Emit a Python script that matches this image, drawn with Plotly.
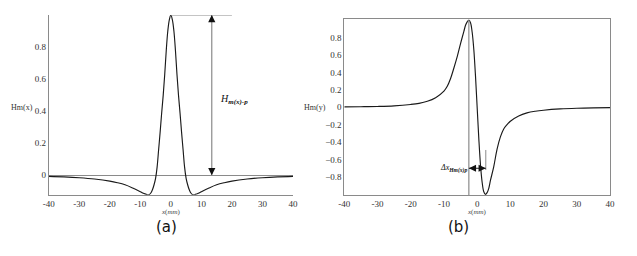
import plotly.graph_objects as go

# ---------------- data ----------------
xa = [-40, -35, -30, -25, -20, -17.5, -15, -12.5, -10, -9, -8, -7.5, -7, -6.5, -6, -5.5, -5, -4.5,
      -4, -3.5, -3, -2.5, -2, -1.5, -1, -0.5, 0,
      0.5, 1, 1.5, 2, 2.5, 3, 3.5, 4, 4.5, 5, 5.5, 6, 6.5, 7, 7.5, 8, 9, 10,
      12.5, 15, 17.5, 20, 25, 30, 35, 40]
ya = [-0.008, -0.011, -0.016, -0.024, -0.037, -0.047, -0.06, -0.08, -0.103, -0.113, -0.12, -0.122, -0.12,
      -0.11, -0.09, -0.06, -0.02, 0.05, 0.16, 0.27, 0.39, 0.5, 0.63, 0.78, 0.9, 0.97, 1.0,
      0.97, 0.9, 0.78, 0.63, 0.5, 0.39, 0.27, 0.16, 0.05, -0.02, -0.06, -0.09, -0.11, -0.12, -0.122,
      -0.12, -0.113, -0.103, -0.08, -0.06, -0.047, -0.037, -0.024, -0.016, -0.011, -0.008]

xb = [-40, -35, -30, -25, -20, -17.5, -15, -12.5, -10, -9, -8, -7, -6, -5, -4, -3.5, -3, -2.5,
      -2, -1.5, -1, -0.5, 0, 0.5, 1, 1.5, 2, 2.5, 3, 3.5, 4, 5, 6, 7, 8, 9, 10,
      12.5, 15, 17.5, 20, 25, 30, 35, 40]
yb = [0.004, 0.006, 0.009, 0.016, 0.032, 0.045, 0.068, 0.11, 0.185, 0.24, 0.33, 0.45, 0.58, 0.73,
      0.87, 0.94, 0.98, 1.0, 0.97, 0.86, 0.66, 0.36, 0.0, -0.36, -0.66, -0.86, -0.97, -1.0, -0.98,
      -0.93, -0.84, -0.68, -0.48, -0.34, -0.25, -0.2, -0.16, -0.1, -0.065, -0.046, -0.034, -0.019,
      -0.011, -0.007, -0.005]

x_ticks = [-40, -30, -20, -10, 0, 10, 20, 30, 40]
ya_ticks = [0, 0.2, 0.4, 0.6, 0.8]
yb_ticks = [-0.8, -0.6, -0.4, -0.2, 0, 0.2, 0.4, 0.6, 0.8]

peak_a_x = 0
peak_a_y = 1.0
arrow_a_x = 13.4
hline_a_end = 20
peak_b_x = -2.5
trough_b_x = 2.6
arrow_b_y = -0.70
short_line_b_top = -0.49

W, H = 637, 256
def px_x(p):
    return p / W
def px_y(p):
    return 1 - p / H

AX = "#8a8a8a"
TICKFONT = dict(family="Liberation Serif", size=9, color="#333")

fig = go.Figure()
fig.add_trace(go.Scatter(x=xa, y=ya, mode="lines", line=dict(color="#1a1a1a", width=1.15, shape="spline"),
                         xaxis="x", yaxis="y", showlegend=False, hoverinfo="skip"))
fig.add_trace(go.Scatter(x=xb, y=yb, mode="lines", line=dict(color="#1a1a1a", width=1.15, shape="spline"),
                         xaxis="x2", yaxis="y2", showlegend=False, hoverinfo="skip"))

xa_dom = [px_x(48.7), px_x(293)]
ya_dom = [px_y(194.7), px_y(15)]
xb_dom = [px_x(344.3), px_x(610)]
yb_dom = [px_y(195.3), px_y(19.2)]

common_x = dict(tickvals=x_ticks, ticktext=[str(v) for v in x_ticks], showgrid=False, zeroline=False,
                showline=True, linecolor=AX, linewidth=1, ticks="", tickfont=TICKFONT, fixedrange=True,
                automargin=False)

fig.update_layout(
    width=W, height=H, margin=dict(l=0, r=0, t=0, b=0),
    paper_bgcolor="white", plot_bgcolor="white",
    xaxis=dict(domain=xa_dom, range=[-40, 40], anchor="y", **common_x),
    yaxis=dict(domain=ya_dom, range=[-0.122, 1.0], anchor="x", tickvals=ya_ticks,
               ticktext=["0", "0.2", "0.4", "0.6", "0.8"], showgrid=False,
               zeroline=True, zerolinecolor=AX, zerolinewidth=1, automargin=False,
               showline=True, linecolor=AX, linewidth=1, ticks="", tickfont=TICKFONT),
    xaxis2=dict(domain=xb_dom, range=[-40, 40], anchor="y2", mirror=True, **common_x),
    yaxis2=dict(domain=yb_dom, range=[-1.01, 1.01], anchor="x2", tickvals=yb_ticks,
                ticktext=[("%g" % v).replace("-", "\u2212") for v in yb_ticks], showgrid=False,
                zeroline=False, showline=True, mirror=True, linecolor=AX, linewidth=1, ticks="",
                tickfont=TICKFONT, automargin=False),
)

shapes = [
    dict(type="line", xref="x", yref="y", x0=peak_a_x, x1=hline_a_end, y0=peak_a_y, y1=peak_a_y,
         line=dict(color=AX, width=1)),
    dict(type="line", xref="x", yref="y", x0=arrow_a_x, x1=arrow_a_x, y0=0, y1=peak_a_y,
         line=dict(color=AX, width=1.2)),
    dict(type="line", xref="x2", yref="y2", x0=peak_b_x, x1=peak_b_x, y0=-1.01, y1=1.0,
         line=dict(color=AX, width=1.2)),
    dict(type="line", xref="x2", yref="y2", x0=trough_b_x, x1=trough_b_x, y0=short_line_b_top, y1=arrow_b_y - 0.02,
         line=dict(color=AX, width=1)),
    dict(type="line", xref="x2", yref="y2", x0=peak_b_x, x1=trough_b_x, y0=arrow_b_y, y1=arrow_b_y,
         line=dict(color="#222", width=1)),
]
fig.update_layout(shapes=shapes)

ann = []
ann.append(dict(x=arrow_a_x, y=peak_a_y, xref="x", yref="y", ax=0, ay=7, showarrow=True, arrowhead=2,
                arrowsize=1.2, arrowwidth=1.2, arrowcolor="#111", text=""))
ann.append(dict(x=arrow_a_x, y=0, xref="x", yref="y", ax=0, ay=-7, showarrow=True, arrowhead=2,
                arrowsize=1.2, arrowwidth=1.2, arrowcolor="#111", text=""))
ann.append(dict(x=peak_b_x, y=arrow_b_y, xref="x2", yref="y2", ax=6, ay=0, showarrow=True, arrowhead=2,
                arrowsize=1.2, arrowwidth=1.2, arrowcolor="#111", text=""))
ann.append(dict(x=trough_b_x, y=arrow_b_y, xref="x2", yref="y2", ax=-6, ay=0, showarrow=True, arrowhead=2,
                arrowsize=1.2, arrowwidth=1.2, arrowcolor="#111", text=""))

SER = "Liberation Serif"
def txt(x, y, text, size, color="#333", family=SER, xanchor="center", yanchor="middle", ref="paper"):
    return dict(x=x, y=y, xref=ref if ref == "paper" else ref[0], yref=ref if ref == "paper" else ref[1],
                xanchor=xanchor, yanchor=yanchor, showarrow=False, text=text,
                font=dict(family=family, size=size, color=color))

ann.append(txt(15.4, 0.47, "<i>H</i><sub><i><b>m(x)-p</b></i></sub>", 10, "#111", xanchor="left",
               ref=("x", "y")))
ann.append(txt(px_x(469), px_y(168), "<i>Δx</i><sub><i><b>Hm(x)p</b></i></sub>", 8, "#111", xanchor="right"))
ann.append(txt(px_x(22), px_y(107), "Hm(x)", 8))
ann.append(txt(px_x(315), px_y(107), "Hm(y)", 8))
ann.append(txt(px_x(171), px_y(212), "<i>x</i>(<i>mm</i>)", 7, "#444"))
ann.append(txt(px_x(477), px_y(212), "<i>x</i>(<i>mm</i>)", 7, "#444"))
ann.append(txt(px_x(166), px_y(227), "(a)", 15, "#111", family="DejaVu Sans"))
ann.append(txt(px_x(459), px_y(227), "(b)", 15, "#111", family="DejaVu Sans"))
fig.update_layout(annotations=ann)

fig.write_html("out.html", config={"displayModeBar": False},
               post_script="document.body.style.margin='0px';")
